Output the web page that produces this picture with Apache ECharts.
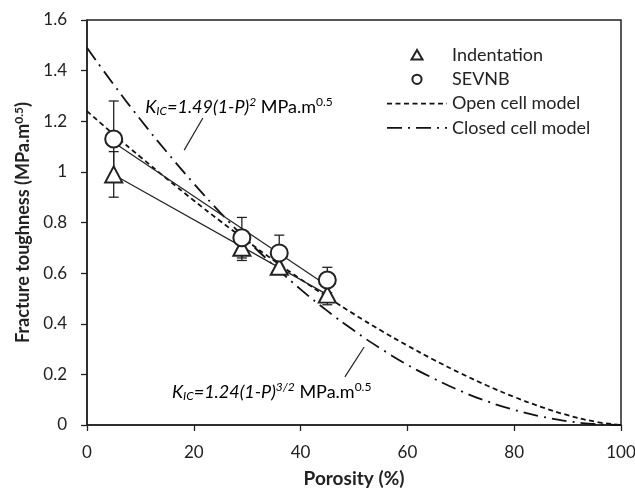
<!DOCTYPE html>
<html>
<head>
<meta charset="utf-8">
<script src="https://cdn.jsdelivr.net/npm/echarts@6/dist/echarts.min.js"></script>
<style>
  html, body { margin: 0; padding: 0; background: #fff; }
  #chart { width: 635px; height: 488px; }
</style>
</head>
<body>
<div id="chart"></div>
<script>
// measured points (porosity %, toughness)
const porosity = [5, 29, 36, 45];
const indentation = [0.99, 0.70, 0.625, 0.515];
const indentationErr = [0.09, 0.05, 0.03, 0.04];
const sevnb = [1.13, 0.74, 0.68, 0.573];
const sevnbErr = [0.15, 0.08, 0.07, 0.05];

// linear trend lines, read at the ends
const fitX = [5, 45];
const indentationFit = [0.989, 0.515];
const sevnbFit = [1.116, 0.55];

// model curves
const modelX = [0, 5, 10, 15, 20, 25, 30, 35, 40, 45, 50, 55, 60, 65, 70, 75, 80, 85, 90, 95, 100];
const openCell = [1.24, 1.148, 1.059, 0.972, 0.887, 0.805, 0.726, 0.65, 0.576, 0.506, 0.438,
    0.374, 0.314, 0.257, 0.204, 0.155, 0.111, 0.072, 0.039, 0.014, 0];
const closedCell = [1.49, 1.345, 1.207, 1.077, 0.954, 0.838, 0.73, 0.63, 0.536, 0.451, 0.373,
    0.302, 0.238, 0.183, 0.134, 0.093, 0.06, 0.034, 0.015, 0.004, 0];

const legendNames = ['Indentation', 'SEVNB', 'Open cell model', 'Closed cell model'];

const font = 'Lato';
const ink = '#222';
const dashOpen = [5, 3.5];
const dashClosed = [15, 6, 2, 6];
const zip = (xs, ys) => xs.map((x, i) => [x, ys[i]]);
const errData = (ys, es) => porosity.map((x, i) => [x, ys[i] - es[i], ys[i] + es[i]]);

function errorBar(params, api) {
    let x = api.value(0);
    let lo = api.coord([x, api.value(1)]);
    let hi = api.coord([x, api.value(2)]);
    let w = 5;
    let st = { stroke: ink, lineWidth: 1.3 };
    return {
        type: 'group',
        children: [
            { type: 'line', shape: { x1: lo[0], y1: lo[1], x2: hi[0], y2: hi[1] }, style: st },
            { type: 'line', shape: { x1: lo[0] - w, y1: lo[1], x2: lo[0] + w, y2: lo[1] }, style: st },
            { type: 'line', shape: { x1: hi[0] - w, y1: hi[1], x2: hi[0] + w, y2: hi[1] }, style: st }
        ]
    };
}

let chart = echarts.init(document.getElementById('chart'));
let option = {
    animation: false,
    textStyle: { fontFamily: font },
    grid: {
        left: 87, right: 14, top: 20, bottom: 63,
        outerBoundsMode: 'none',
        containLabel: false,
        show: true, borderColor: ink, borderWidth: 1.5
    },
    xAxis: {
        type: 'value',
        min: 0, max: 100, interval: 20,
        name: 'Porosity (%)',
        nameLocation: 'middle',
        nameGap: 44,
        nameTextStyle: { fontFamily: font, fontSize: 19, fontWeight: 'bold', color: ink },
        axisLine: { lineStyle: { color: ink, width: 1.5 } },
        axisTick: { show: true, length: 6, lineStyle: { color: ink, width: 1.3 } },
        axisLabel: { fontSize: 17, color: ink, margin: 19 },
        splitLine: { show: false }
    },
    yAxis: {
        type: 'value',
        min: 0, max: 1.6, interval: 0.2,
        name: '{b|Fracture toughness (MPa.m}{s|0.5}{b|)}',
        nameLocation: 'middle',
        nameGap: 53,
        nameTextStyle: {
            rich: {
                b: { fontFamily: font, fontSize: 18, fontWeight: 'bold', color: ink },
                s: { fontFamily: font, fontSize: 12, fontWeight: 'bold', color: ink, padding: [0, 0, 9, 0] }
            }
        },
        axisLine: { show: true, lineStyle: { color: ink, width: 1.5 } },
        axisTick: { show: true, length: 6, lineStyle: { color: ink, width: 1.3 } },
        axisLabel: {
            fontSize: 17, color: ink, margin: 20,
            formatter: v => (Math.round(v * 10) / 10).toString()
        },
        splitLine: { show: false }
    },
    series: [
        {
            name: legendNames[2],
            type: 'line',
            data: zip(modelX, openCell),
            smooth: true,
            symbol: 'none',
            lineStyle: { color: '#111', width: 1.8, type: dashOpen },
            z: 2
        },
        {
            name: legendNames[3],
            type: 'line',
            data: zip(modelX, closedCell),
            smooth: true,
            symbol: 'none',
            lineStyle: { color: '#111', width: 1.8, type: dashClosed },
            z: 2
        },
        {
            type: 'line',
            data: zip(fitX, indentationFit),
            symbol: 'none',
            lineStyle: { color: ink, width: 1.2 },
            z: 2
        },
        {
            type: 'line',
            data: zip(fitX, sevnbFit),
            symbol: 'none',
            lineStyle: { color: ink, width: 1.2 },
            z: 2
        },
        {
            type: 'custom',
            renderItem: errorBar,
            data: errData(indentation, indentationErr),
            z: 3
        },
        {
            type: 'custom',
            renderItem: errorBar,
            data: errData(sevnb, sevnbErr),
            z: 3
        },
        {
            name: legendNames[0],
            type: 'scatter',
            data: zip(porosity, indentation),
            symbol: 'triangle',
            symbolSize: [17, 16],
            itemStyle: { color: '#fff', borderColor: ink, borderWidth: 2, opacity: 1 },
            z: 5
        },
        {
            name: legendNames[1],
            type: 'scatter',
            data: zip(porosity, sevnb),
            symbol: 'circle',
            symbolSize: 17,
            itemStyle: { color: '#fff', borderColor: ink, borderWidth: 2, opacity: 1 },
            z: 6
        }
    ]
};
chart.setOption(option);

// formula labels with leader lines, anchored in data units
const annRich = {
    i: { fontFamily: font, fontSize: 18, fontStyle: 'italic', color: ink },
    isub: { fontFamily: font, fontSize: 12, fontStyle: 'italic', color: ink, padding: [9, 0, 0, 0] },
    isup: { fontFamily: font, fontSize: 12, fontStyle: 'italic', color: ink, padding: [0, 0, 9, 0] },
    n: { fontFamily: font, fontSize: 18, color: ink },
    sup: { fontFamily: font, fontSize: 12, color: ink, padding: [0, 0, 9, 0] }
};
const labels = [
    { at: [10.9, 1.256], text: '{i|K}{isub|IC}{i|=1.49(1-P)}{isup|2}{n| MPa.m}{sup|0.5}', from: [21.7, 1.213], to: [18.2, 1.086] },
    { at: [15.9, 0.13], text: '{i|K}{isub|IC}{i|=1.24(1-P)}{isup|3/2}{n| MPa.m}{sup|0.5}', from: [48.3, 0.19], to: [51.9, 0.308] }
];
let g = [];
for (let l of labels) {
    let p = chart.convertToPixel({ gridIndex: 0 }, l.at);
    let a = chart.convertToPixel({ gridIndex: 0 }, l.from);
    let b = chart.convertToPixel({ gridIndex: 0 }, l.to);
    g.push({
        type: 'text', x: p[0], y: p[1], z: 10,
        style: { text: l.text, rich: annRich, verticalAlign: 'middle', align: 'left' }
    });
    g.push({
        type: 'line', z: 10,
        shape: { x1: a[0], y1: a[1], x2: b[0], y2: b[1] },
        style: { stroke: ink, lineWidth: 1.2 }
    });
}

// legend block, top right
const lgX = 387, lgW = 60, lgTop = 55, lgStep = 24.3;
const lgMid = lgX + lgW / 2;
legendNames.forEach((name, i) => {
    let y = lgTop + i * lgStep;
    g.push({
        type: 'text', x: lgX + lgW + 5, y: y,
        style: { text: name, fontFamily: font, fontSize: 18, fill: ink, verticalAlign: 'middle' }
    });
});
g.push({
    type: 'polygon',
    shape: { points: [[lgMid, lgTop - 5], [lgMid - 5.5, lgTop + 4.5], [lgMid + 5.5, lgTop + 4.5]] },
    style: { fill: '#fff', stroke: ink, lineWidth: 2 }
});
g.push({
    type: 'circle',
    shape: { cx: lgMid, cy: lgTop + lgStep, r: 4.6 },
    style: { fill: '#fff', stroke: ink, lineWidth: 2 }
});
g.push({
    type: 'line',
    shape: { x1: lgX, y1: lgTop + 2 * lgStep, x2: lgX + lgW, y2: lgTop + 2 * lgStep },
    style: { stroke: '#111', lineWidth: 1.8, lineDash: dashOpen }
});
g.push({
    type: 'line',
    shape: { x1: lgX, y1: lgTop + 3 * lgStep, x2: lgX + lgW, y2: lgTop + 3 * lgStep },
    style: { stroke: '#111', lineWidth: 1.8, lineDash: dashClosed }
});
chart.setOption({ graphic: g });
</script>
</body>
</html>
